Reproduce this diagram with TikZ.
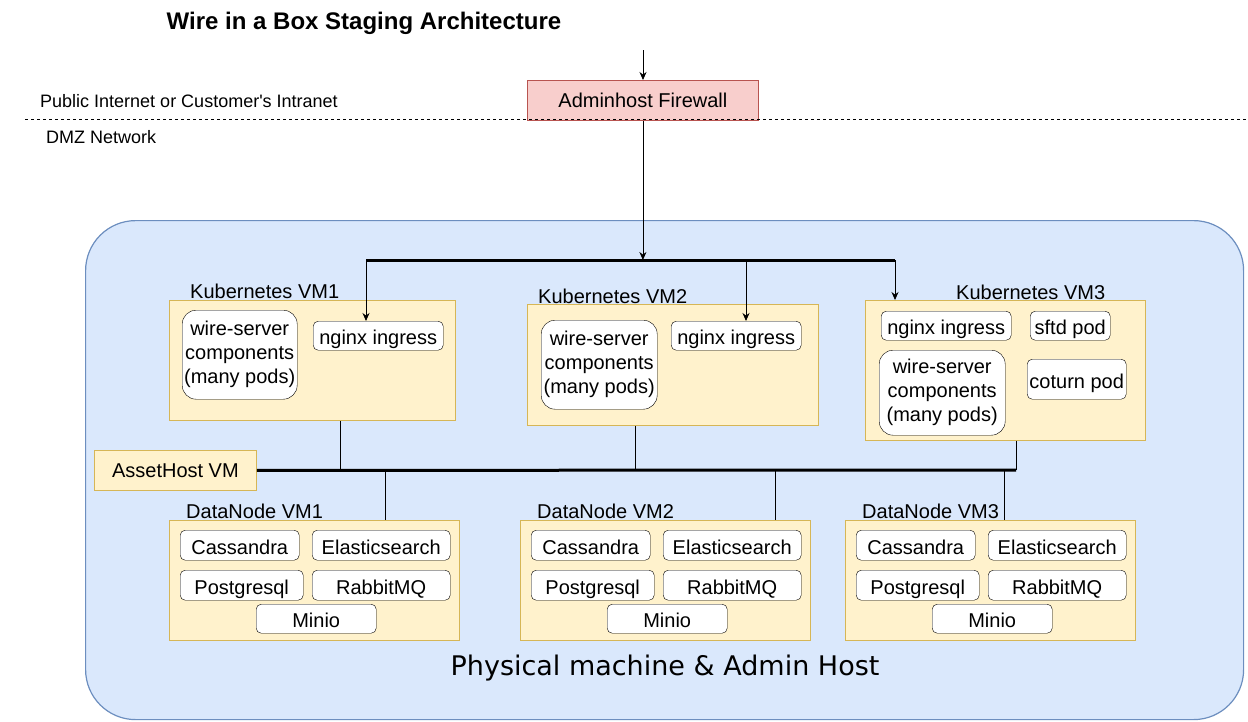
\documentclass[tikz,border=0pt]{standalone}
\usepackage{fontspec}
\setmainfont{Liberation Sans}
\newfontfamily\dejavu{DejaVu Sans}
\usetikzlibrary{arrows.meta}
\definecolor{vmfill}{HTML}{FFF2CC}
\definecolor{vmline}{HTML}{D6B656}
\definecolor{hostfill}{HTML}{DAE8FC}
\definecolor{hostline}{HTML}{6C8EBF}
\definecolor{fwfill}{HTML}{F8CECC}
\definecolor{fwline}{HTML}{B85450}
\tikzset{
  txt/.style={font=\fontsize{20}{24}\selectfont},
  vmbox/.style={draw=vmline,fill=vmfill,line width=0.8pt,inner sep=0pt,anchor=north west},
  podbox/.style={txt,draw=black,fill=white,rounded corners=5pt,inner sep=0pt,anchor=north west,text height=20pt,text depth=2pt},
  wsbox/.style={txt,draw=black,fill=white,inner sep=0pt,anchor=north west,rounded corners=14pt,align=center},
  vmlabel/.style={txt,anchor=base west,inner sep=0pt},
  netlabel/.style={font=\fontsize{18}{22}\selectfont,anchor=base west,inner sep=0pt},
  bus/.style={line width=3pt},
  link/.style={line width=0.8pt},
  arr/.style={line width=0.8pt,-{Stealth[length=8pt,width=7pt]}}
}
\begin{document}
\begin{tikzpicture}[x=1pt,y=-1pt]
                            \useasboundingbox (0,0) rectangle (1248,721);
                            \node[font=\bfseries\fontsize{24}{28}\selectfont] (title) at (364,23) {Wire in a Box Staging Architecture};
                            \node[draw=hostline,fill=hostfill,line width=1.2pt,rounded corners=50pt,minimum width=1158pt,minimum height=499pt,anchor=north west] (host) at (85,220) {};
                            \node[font=\dejavu\fontsize{27}{31}\selectfont] (hostname) at (665,668) {Physical machine \& Admin Host};
                            \node[txt,draw=fwline,fill=fwfill,line width=0.8pt,minimum width=231pt,minimum height=40pt,anchor=north west] (fw) at (527,80) {Adminhost Firewall};
                            \draw[dashed,line width=0.8pt] (25,119) coordinate (dmzl) -- (1248,119) coordinate (dmzr);
                            \node[netlabel] (pub) at (40,107) {Public Internet or Customer\textquotesingle s Intranet};
                            \node[netlabel] (dmz) at (46,143) {DMZ Network};
                            \coordinate (top) at (643,50);
                            \draw[arr] (top) -- (top |- fw.north);
                            \node[vmbox,minimum width=286pt,minimum height=120pt] (k1) at (169,300) {};
                            \node[vmlabel] (k1l) at (190,298) {Kubernetes VM1};
                            \node[wsbox,minimum width=115pt,minimum height=89pt] (ws1) at (182,310) {wire-server\\components\\(many pods)};
                            \node[podbox,minimum width=130pt,minimum height=29pt] (ng1) at (313,321) {nginx ingress};
                            \node[vmbox,minimum width=291pt,minimum height=121pt] (k2) at (527,304) {};
                            \node[vmlabel] (k2l) at (538,303) {Kubernetes VM2};
                            \node[wsbox,minimum width=116pt,minimum height=89pt] (ws2) at (541,320) {wire-server\\components\\(many pods)};
                            \node[podbox,minimum width=130pt,minimum height=29pt] (ng2) at (671,321) {nginx ingress};
                            \node[vmbox,minimum width=280pt,minimum height=140pt] (k3) at (865,300) {};
                            \node[vmlabel] (k3l) at (956,299) {Kubernetes VM3};
                            \node[podbox,minimum width=130pt,minimum height=29pt] (ng3) at (881,311) {nginx ingress};
                            \node[podbox,minimum width=80pt,minimum height=29pt] (sftd) at (1030,311) {sftd pod};
                            \node[wsbox,minimum width=126pt,minimum height=85pt] (ws3) at (879,350) {wire-server\\components\\(many pods)};
                            \node[podbox,minimum width=99pt,minimum height=40pt] (coturn) at (1027,359) {coturn pod};
                            \coordinate (bus1l) at (366,260);
                            \coordinate (bus1m) at (746,260);
                            \coordinate (bus1r) at (895,260);
                            \draw[bus] (bus1l) -- (bus1r);
                            \draw[arr] (fw.south) -- (fw.south |- bus1l);
                            \draw[arr] (bus1l) -- (bus1l |- ng1.north);
                            \draw[arr] (bus1m) -- (bus1m |- ng2.north);
                            \draw[arr] (bus1r) -- (bus1r |- k3.north);
                            \node[txt,vmbox,minimum width=162pt,minimum height=40pt] (asset) at (94,450) {AssetHost VM};
                            \coordinate (bus2r) at (1016,470);
                            \coordinate (c1) at (340,470);
                            \coordinate (c2) at (635,470);
                            \draw[bus] (asset.east) -- (bus2r);
                            \draw[link] (c1 |- k1.south) -- (c1);
                            \draw[link] (c2 |- k2.south) -- (c2);
                            \draw[link] (bus2r |- k3.south) -- (bus2r);
                            \foreach \x/\n/\d in {169/1/385, 520/2/775, 845/3/1004}{
                              \node[vmbox,minimum width=290pt,minimum height=120pt] (dn\n) at (\x,520) {};
                              \node[vmlabel] (dn\n l) at (\x+17,518) {DataNode VM\n};
                              \node[podbox,minimum width=119pt,minimum height=30pt] (cas\n) at (\x+11,530) {Cassandra};
                              \node[podbox,minimum width=138pt,minimum height=30pt] (es\n) at (\x+143,530) {Elasticsearch};
                              \node[podbox,minimum width=123pt,minimum height=30pt] (pg\n) at (\x+11,570) {Postgresql};
                              \node[podbox,minimum width=138pt,minimum height=30pt] (rmq\n) at (\x+143,570) {RabbitMQ};
                              \node[podbox,minimum width=120pt,minimum height=29pt] (mio\n) at (\x+87,604) {Minio};
                              \coordinate (d\n) at (\d,470);
                              \draw[link] (d\n) -- (d\n |- dn\n.north);
                            }
                        \end{tikzpicture}
\end{document}
